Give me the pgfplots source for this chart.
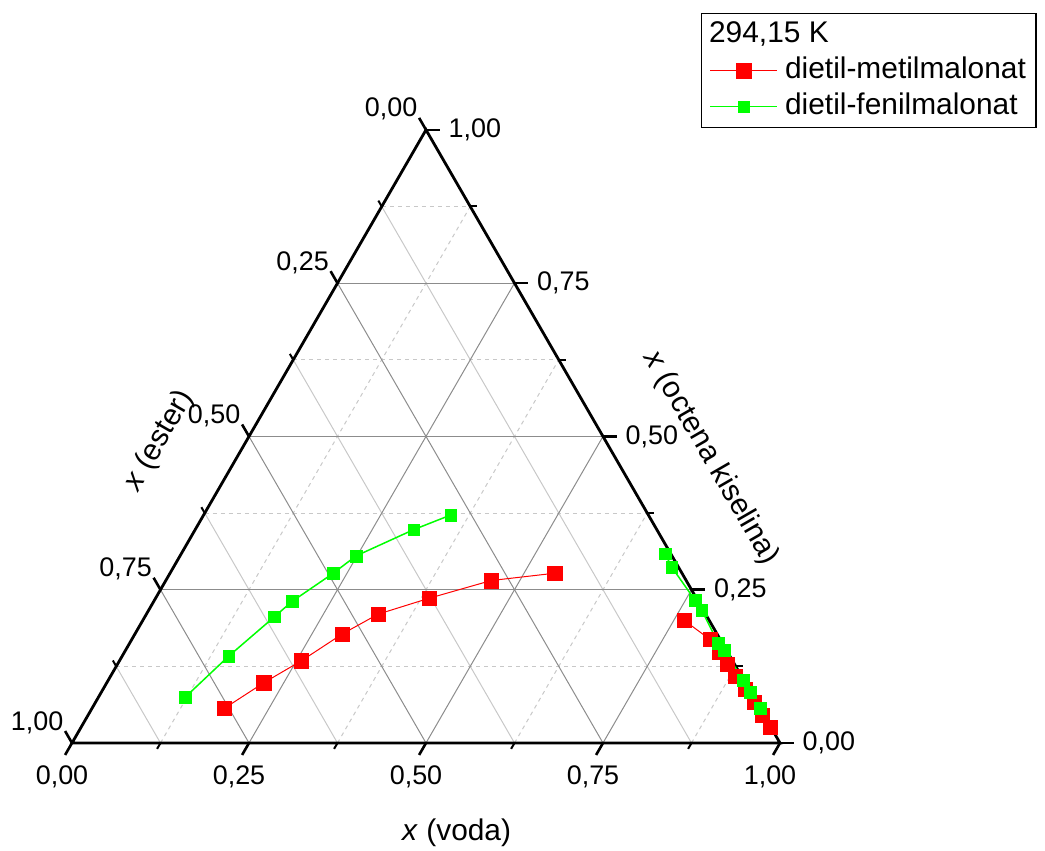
\documentclass[border=0pt]{standalone}
\usepackage{pgfplots}
\usepackage{pgfplotstable}
\pgfplotsset{compat=1.18}
\usepackage{fontspec}
\setmainfont{Liberation Sans}

% ternary data: mole fractions x(voda), x(octena kiselina), x(ester)
\pgfplotstableread{
voda kiselina ester
0.1869 0.0565 0.7566
0.2217 0.0982 0.6801
0.2569 0.1340 0.6091
0.2926 0.1775 0.5299
0.3272 0.2101 0.4627
0.3866 0.2362 0.3772
0.4597 0.2650 0.2753
0.5434 0.2769 0.1797
}\redL
\pgfplotstableread{
voda kiselina ester
0.7642 0.2003 0.0355
0.8167 0.1689 0.0144
0.8397 0.1482 0.0121
0.8608 0.1287 0.0105
0.8818 0.1091 0.0091
0.9066 0.0879 0.0055
0.9299 0.0668 0.0033
0.9518 0.0456 0.0026
0.9729 0.0261 0.0010
}\redR
\pgfplotstableread{
voda kiselina ester
0.1224 0.0744 0.8032
0.1505 0.1417 0.7078
0.1829 0.2057 0.6114
0.1953 0.2308 0.5739
0.2306 0.2769 0.4925
0.2486 0.3051 0.4463
0.3086 0.3480 0.3434
0.3490 0.3718 0.2792
}\greenL
\pgfplotstableread{
voda kiselina ester
0.6831 0.3090 0.0079
0.7034 0.2871 0.0095
0.7635 0.2329 0.0036
0.7811 0.2166 0.0023
0.8317 0.1624 0.0059
0.8452 0.1515 0.0033
0.8969 0.1026 0.0005
0.9161 0.0831 0.0008
0.9435 0.0565 0.0000
}\greenR

\definecolor{majgrid}{HTML}{8C8C8C}
\definecolor{mingrid}{HTML}{C8C8C8}
\tikzset{ttick/.style={line width=1.3bp, black}, tmtick/.style={line width=1.0bp, black},
  tlab/.style={font=\fontsize{13.5}{16}\selectfont, inner sep=0pt},
  ttitle/.style={font=\fontsize{15}{18}\selectfont, inner sep=0pt}}

\begin{document}
\begin{tikzpicture}
\begin{axis}[
  scale only axis,
  width=522.5bp, height=425.5bp,
  xmin=-0.10169, xmax=1.37429,
  ymin=-0.15254, ymax=1.04944,
  hide axis,
  clip=false,
  legend image code/.code={\draw[mark repeat=2,mark phase=2] plot coordinates {(0bp,0bp) (16.75bp,0bp) (33.5bp,0bp)};},
  legend cell align=left,
  legend style={at={(axis cs:0.8884,1.0311)}, anchor=north west, draw=black, line width=0.6bp,
    fill=white, inner xsep=4bp, inner ysep=1.5bp, row sep=0bp,
    font=\fontsize{15}{18}\selectfont,
    nodes={inner sep=1bp, text height=12bp, text depth=4bp},
    /tikz/every odd column/.append style={column sep=2.5bp}},
]
\path (rel axis cs:0,0) rectangle (rel axis cs:1,1);

% minor grid
\pgfplotsinvokeforeach{0.125,0.375,0.625,0.875}{
  \draw[mingrid, line width=0.5bp, dash pattern=on 2bp off 2bp] ({#1/2},{0.866025*#1}) -- ({1-#1/2},{0.866025*#1});
  \draw[mingrid, line width=0.5bp, dash pattern=on 2bp off 2bp] (#1,0) -- ({(1+#1)/2},{0.866025*(1-#1)});
  \draw[mingrid, line width=0.5bp] ({1-#1},0) -- ({(1-#1)/2},{0.866025*(1-#1)});
}
% major grid
\pgfplotsinvokeforeach{0.25,0.5,0.75}{
  \draw[majgrid, line width=0.5bp] ({#1/2},{0.866025*#1}) -- ({1-#1/2},{0.866025*#1});
  \draw[majgrid, line width=0.5bp] (#1,0) -- ({(1+#1)/2},{0.866025*(1-#1)});
  \draw[majgrid, line width=0.5bp] ({1-#1},0) -- ({(1-#1)/2},{0.866025*(1-#1)});
}
% ticks
\pgfplotsinvokeforeach{0,0.25,0.5,0.75,1}{
  \draw[ttick] (#1,0) -- ({#1-0.00975},-0.01689);
  \draw[ttick] ({(1-#1)/2},{0.866025*(1-#1)}) -- ({(1-#1)/2-0.00975},{0.866025*(1-#1)+0.01689});
  \draw[ttick] ({1-#1/2},{0.866025*#1}) -- ({1-#1/2+0.0195},{0.866025*#1});
}
\pgfplotsinvokeforeach{0.125,0.375,0.625,0.875}{
  \draw[tmtick] (#1,0) -- ({#1-0.0048},-0.0083);
  \draw[tmtick] ({(1-#1)/2},{0.866025*(1-#1)}) -- ({(1-#1)/2-0.0048},{0.866025*(1-#1)+0.0083});
  \draw[tmtick] ({1-#1/2},{0.866025*#1}) -- ({1-#1/2+0.0096},{0.866025*#1});
}
% triangle
\draw[line width=1.4bp, line join=miter] (0,0) -- (1,0) -- (0.5,0.866025) -- cycle;

% tick labels
\node[tlab, anchor=north] at (-0.0141,-0.0311) {0,00};
\node[tlab, anchor=north] at (0.2359,-0.0311) {0,25};
\node[tlab, anchor=north] at (0.4859,-0.0311) {0,50};
\node[tlab, anchor=north] at (0.7359,-0.0311) {0,75};
\node[tlab, anchor=north] at (0.9859,-0.0311) {1,00};
\node[tlab, anchor=south east] at (0.4882,0.8789) {0,00};
\node[tlab, anchor=south east] at (0.3632,0.6624) {0,25};
\node[tlab, anchor=south east] at (0.2382,0.4459) {0,50};
\node[tlab, anchor=south east] at (0.1132,0.2294) {0,75};
\node[tlab, anchor=south east] at (-0.0118,0.0129) {1,00};
\node[tlab, anchor=west] at (1.0315,0) {0,00};
\node[tlab, anchor=west] at (0.9065,0.2165) {0,25};
\node[tlab, anchor=west] at (0.7815,0.4330) {0,50};
\node[tlab, anchor=west] at (0.6565,0.6495) {0,75};
\node[tlab, anchor=west] at (0.5315,0.8660) {1,00};

% axis titles
\node[ttitle] at (0.5433,-0.1271) {\textit{x} (voda)};
\node[ttitle, rotate=60] at (0.1229,0.4266) {\textit{x} (ester)};
\node[ttitle, rotate=-60] at (0.9025,0.4025) {\textit{x} (octena kiselina)};

% data
\addplot[forget plot, red, line width=0.5bp, mark=square*, mark size=3.6bp, mark options={solid, fill=red, draw=red, line width=0.2bp}]
  table[x expr=\thisrow{voda}+0.5*\thisrow{kiselina}, y expr=0.866025*\thisrow{kiselina}] {\redL};
\addplot[forget plot, red, line width=0.5bp, mark=square*, mark size=3.6bp, mark options={solid, fill=red, draw=red, line width=0.2bp}]
  table[x expr=\thisrow{voda}+0.5*\thisrow{kiselina}, y expr=0.866025*\thisrow{kiselina}] {\redR};
\addplot[forget plot, green, line width=0.75bp, mark=square*, mark size=2.9bp, mark options={solid, fill=green, draw=green, line width=0.2bp}]
  table[x expr=\thisrow{voda}+0.5*\thisrow{kiselina}, y expr=0.866025*\thisrow{kiselina}] {\greenL};
\addplot[forget plot, green, line width=0.75bp, mark=square*, mark size=2.9bp, mark options={solid, fill=green, draw=green, line width=0.2bp}]
  table[x expr=\thisrow{voda}+0.5*\thisrow{kiselina}, y expr=0.866025*\thisrow{kiselina}] {\greenR};

% legend
\addlegendimage{empty legend}
\addlegendentry{\hspace*{-38bp}294,15 K}
\addlegendimage{red, line width=0.5bp, mark=square*, mark size=3.6bp, mark options={solid, fill=red, draw=red, line width=0.2bp}}
\addlegendentry{dietil-metilmalonat}
\addlegendimage{green, line width=0.75bp, mark=square*, mark size=2.9bp, mark options={solid, fill=green, draw=green, line width=0.2bp}}
\addlegendentry{dietil-fenilmalonat}
\end{axis}
\end{tikzpicture}
\end{document}
